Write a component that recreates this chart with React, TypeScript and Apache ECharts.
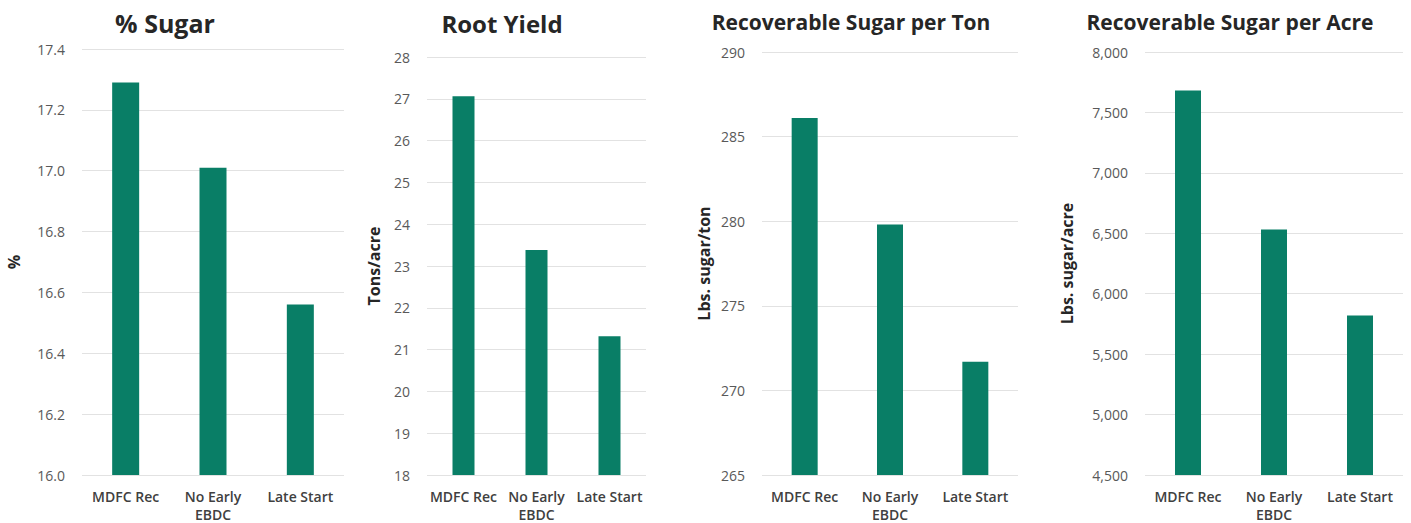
import React, { useEffect, useRef } from "react";
import * as echarts from "echarts";

const categories = ["MDFC Rec", "No Early\nEBDC", "Late Start"];
const sugarPct = [17.29, 17.01, 16.56];
const rootYield = [27.06, 23.38, 21.32];
const rsPerTon = [286.1, 279.8, 271.7];
const rsPerAcre = [7682, 6532, 5819];

const titles = ["% Sugar", "Root Yield", "Recoverable Sugar per Ton", "Recoverable Sugar per Acre"];
const axisNames = ["%", "Tons/acre", "Lbs. sugar/ton", "Lbs. sugar/acre"];

const FONT = "'Open Sans', sans-serif";
const BAR = "#097e66";
const GRIDLINE = "#e2e2e2";

export default function App() {
  const ref = useRef<HTMLDivElement>(null);
  useEffect(() => {
    if (!ref.current) return;
    const chart = echarts.init(ref.current, undefined, { renderer: "svg" });

    const grids = [
      { left: 82, top: 49, width: 262, height: 429 },
      { left: 427, top: 57, width: 219, height: 421 },
      { left: 762, top: 52, width: 256, height: 427 },
      { left: 1145, top: 52, width: 258, height: 430 },
    ];
    const yCfg = [
      { min: 16, max: 17.4, interval: 0.2, fmt: (v: number) => v.toFixed(1), gap: 60 },
      { min: 18, max: 28, interval: 1, fmt: (v: number) => String(v), gap: 45 },
      { min: 265, max: 290, interval: 5, fmt: (v: number) => String(v), gap: 50 },
      { min: 4500, max: 8000, interval: 500, fmt: (v: number) => v.toLocaleString("en-US"), gap: 70 },
    ];
    const datasets = [sugarPct, rootYield, rsPerTon, rsPerAcre];
    const barWidths = [27, 22, 26, 26];
    const titleCfg = [
      { x: 165, top: 10, size: 25 },
      { x: 502, top: 11, size: 24 },
      { x: 851, top: 11, size: 21 },
      { x: 1230, top: 11, size: 21 },
    ];

    chart.setOption({
      animation: false,
      backgroundColor: "#ffffff",
      title: titles.map((t, i) => ({
        text: t,
        left: titleCfg[i].x,
        top: titleCfg[i].top,
        textAlign: "center",
        padding: 0,
        textStyle: { fontFamily: FONT, fontSize: titleCfg[i].size, fontWeight: "bold", color: "#262626" },
      })),
      grid: grids.map((g) => ({ ...g, containLabel: false })),
      xAxis: grids.map((_, i) => ({
        type: "category",
        gridIndex: i,
        data: categories,
        axisLine: { show: false },
        axisTick: { show: false },
        axisLabel: {
          fontFamily: FONT,
          fontSize: 14,
          fontWeight: 600,
          color: "#404040",
          margin: 12,
          lineHeight: 18,
          interval: 0,
        },
      })),
      yAxis: yCfg.map((c, i) => ({
        type: "value",
        gridIndex: i,
        min: c.min,
        max: c.max,
        interval: c.interval,
        name: axisNames[i],
        nameLocation: "middle",
        nameRotate: 90,
        nameGap: c.gap,
        nameTextStyle: { fontFamily: FONT, fontSize: 16, fontWeight: "bold", color: "#262626" },
        axisLine: { show: false },
        axisTick: { show: false },
        splitLine: { show: true, lineStyle: { color: GRIDLINE, width: 1 } },
        axisLabel: {
          fontFamily: FONT,
          fontSize: 14,
          color: "#595959",
          margin: 17,
          formatter: c.fmt,
        },
      })),
      series: datasets.map((d, i) => ({
        type: "bar",
        xAxisIndex: i,
        yAxisIndex: i,
        data: d,
        barWidth: barWidths[i],
        itemStyle: { color: BAR },
      })),
    });

    return () => chart.dispose();
  }, []);

  return (
    <div
      ref={ref}
      style={{ position: "fixed", left: 0, top: 0, width: 1411, height: 523 }}
    />
  );
}
